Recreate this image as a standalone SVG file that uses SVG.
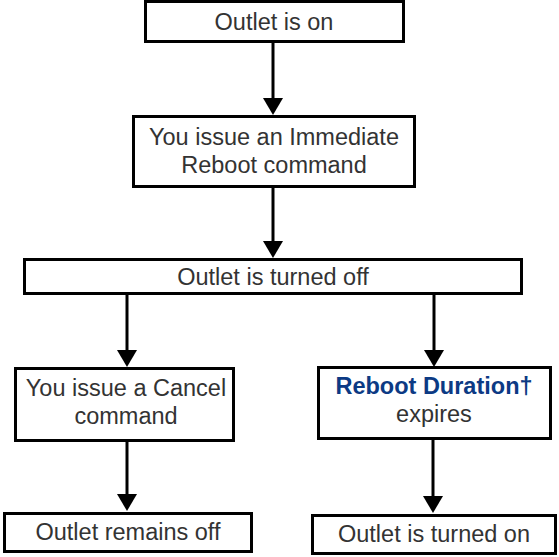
<svg xmlns="http://www.w3.org/2000/svg" width="559" height="557" viewBox="0 0 559 557">
  <style>
    .box { fill: #ffffff; stroke: #000000; stroke-width: 3; }
    .lbl { font-family: "Liberation Sans", Arial, sans-serif; font-size: 23.5px; fill: #333333; text-anchor: middle; }
    .em { font-weight: bold; fill: #0c3a84; }
    .wire { stroke: #000000; stroke-width: 3; fill: none; marker-end: url(#head); }
  </style>
  <defs>
    <!-- filled arrowhead; its base sits at the line end, the tip 17px beyond -->
    <marker id="head" markerUnits="userSpaceOnUse" markerWidth="17" markerHeight="20" viewBox="0 0 17 20" refX="0" refY="10" orient="auto">
      <path d="M0,0 L17,10 L0,20 Z" fill="#000000"/>
    </marker>
  </defs>
  <rect width="559" height="557" fill="#ffffff"/>

  <g id="connectors">
    <line class="wire" x1="273" y1="42" x2="273" y2="98"/>
    <line class="wire" x1="273" y1="187" x2="273" y2="241"/>
    <line class="wire" x1="127" y1="294" x2="127" y2="350"/>
    <line class="wire" x1="434" y1="294" x2="434" y2="350"/>
    <line class="wire" x1="127" y1="441" x2="127" y2="494"/>
    <line class="wire" x1="433" y1="439" x2="433" y2="496"/>
  </g>

  <g id="outlet-on">
    <rect class="box" x="145.5" y="1.5" width="258" height="40"/>
    <text class="lbl" x="274" y="30">Outlet is on</text>
  </g>

  <g id="immediate-reboot">
    <rect class="box" x="133.5" y="116.5" width="281" height="70"/>
    <text class="lbl" x="274" y="145">You issue an Immediate</text>
    <text class="lbl" x="274" y="173">Reboot command</text>
  </g>

  <g id="turned-off">
    <rect class="box" x="24.5" y="259.5" width="497" height="34"/>
    <text class="lbl" x="273" y="285">Outlet is turned off</text>
  </g>

  <g id="cancel">
    <rect class="box" x="15.5" y="368.5" width="218" height="72"/>
    <text class="lbl" x="126" y="396">You issue a Cancel</text>
    <text class="lbl" x="126" y="424">command</text>
  </g>

  <g id="duration-expires">
    <rect class="box" x="318.5" y="367.5" width="232" height="71"/>
    <text class="lbl" x="434" y="394"><tspan class="em">Reboot Duration†</tspan></text>
    <text class="lbl" x="434" y="422">expires</text>
  </g>

  <g id="remains-off">
    <rect class="box" x="4.5" y="513.5" width="247" height="38"/>
    <text class="lbl" x="128" y="540">Outlet remains off</text>
  </g>

  <g id="turned-on">
    <rect class="box" x="312.5" y="515.5" width="243" height="38"/>
    <text class="lbl" x="434" y="542">Outlet is turned on</text>
  </g>
</svg>
